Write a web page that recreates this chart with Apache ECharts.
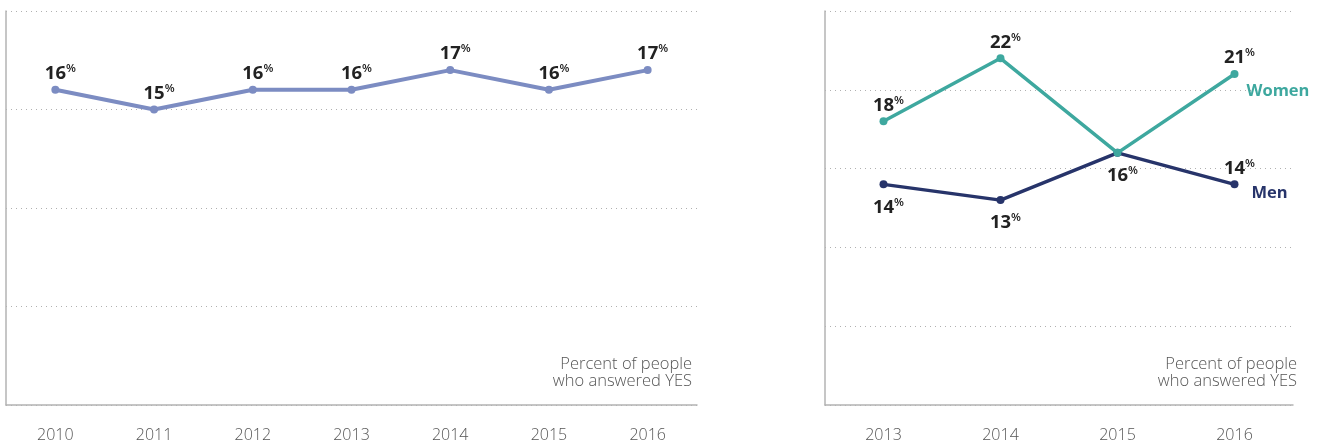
<!DOCTYPE html>
<html>
<head>
<meta charset="utf-8">
<style>
  html, body { margin: 0; padding: 0; background: #fff; }
  #chart { width: 1326px; height: 445px; }
</style>
<script src="https://cdn.jsdelivr.net/npm/echarts@6/dist/echarts.min.js"></script>
</head>
<body>
<div id="chart"></div>
<script>
// Share of people answering YES, all respondents (2010–2016)
const yearsAll = ['2010', '2011', '2012', '2013', '2014', '2015', '2016'];
const totalYes = [16, 15, 16, 16, 17, 16, 17];

// Split by gender (2013–2016)
const yearsGender = ['2013', '2014', '2015', '2016'];
const womenYes = [18, 22, 16, 21];
const menYes = [14, 13, 16, 14];

// Value axis ranges
const leftAxisMax = 20;
const rightAxisMax = 25;
const axisStep = 5;

const noteText = 'Percent of people\nwho answered YES';

const FONT = '"Open Sans", "Noto Sans", sans-serif';
const AXIS_GREY = '#b3b3b3';
const GRID_GREY = '#b0b0b0';
const TEXT_DARK = '#222';
const COLOR_ALL = '#7c8cc2';
const COLOR_WOMEN = '#3ea89f';
const COLOR_MEN = '#27346a';

const pctRich = {
  v: { fontFamily: FONT, fontSize: 18.5, fontWeight: 'bold', color: TEXT_DARK, lineHeight: 22 },
  p: { fontFamily: FONT, fontSize: 11.5, fontWeight: 600, color: TEXT_DARK, lineHeight: 13, verticalAlign: 'top' }
};
const pctFormatter = (p) => '{v|' + p.value + '}{p|%}';

function pctLabel(position, distance, offset) {
  return {
    show: true,
    position: position,
    distance: distance,
    offset: offset || [5, 0],
    formatter: pctFormatter,
    rich: pctRich
  };
}

function xAxisFor(gridIndex, cats) {
  return {
    type: 'category',
    gridIndex: gridIndex,
    data: cats,
    boundaryGap: true,
    axisLine: { show: true, lineStyle: { color: AXIS_GREY, width: 1.5 } },
    axisTick: { show: false },
    axisLabel: { margin: 22, color: '#555', fontFamily: FONT, fontSize: 16, fontWeight: 300 },
    splitLine: { show: false }
  };
}

function yAxisFor(gridIndex, max) {
  return {
    type: 'value',
    gridIndex: gridIndex,
    min: 0,
    max: max,
    interval: axisStep,
    axisLine: { show: true, lineStyle: { color: AXIS_GREY, width: 1.5 } },
    axisTick: { show: false },
    axisLabel: { show: false },
    splitLine: { show: true, lineStyle: { color: GRID_GREY, width: 1, type: [1, 4] } }
  };
}

// Label placement for the gender panel
const womenLabelSide = ['top', 'top', 'bottom', 'top'];
const menLabelSide = ['bottom', 'bottom', null, 'top'];

function labelledData(values, sides) {
  return values.map((v, i) => {
    const side = sides[i];
    if (!side) return { value: v, label: { show: false } };
    return { value: v, label: pctLabel(side, side === 'top' ? 1 : 8) };
  });
}

const noteStyle = {
  text: noteText, textAlign: 'right', textVerticalAlign: 'middle', fill: '#555',
  font: '300 16.5px ' + FONT, lineHeight: 17
};

const option = {
  backgroundColor: '#fff',
  animation: false,
  grid: [
    { left: 6, top: 11, width: 691, height: 394 },
    { left: 825, top: 11, width: 468, height: 394 }
  ],
  xAxis: [xAxisFor(0, yearsAll), xAxisFor(1, yearsGender)],
  yAxis: [yAxisFor(0, leftAxisMax), yAxisFor(1, rightAxisMax)],
  graphic: [
    { type: 'text', x: 692, y: 373, style: noteStyle },
    { type: 'text', x: 1297, y: 373, style: noteStyle }
  ],
  series: [
    {
      name: 'All',
      type: 'line',
      xAxisIndex: 0, yAxisIndex: 0,
      data: totalYes,
      symbol: 'circle', symbolSize: 8,
      lineStyle: { color: COLOR_ALL, width: 4 },
      itemStyle: { color: COLOR_ALL },
      label: pctLabel('top', 1)
    },
    {
      name: 'Women',
      type: 'line',
      xAxisIndex: 1, yAxisIndex: 1,
      data: labelledData(womenYes, womenLabelSide),
      symbol: 'circle', symbolSize: 8,
      lineStyle: { color: COLOR_WOMEN, width: 3.5 },
      itemStyle: { color: COLOR_WOMEN },
      endLabel: { show: true, formatter: '{a}', color: COLOR_WOMEN, fontFamily: FONT,
                  fontWeight: 'bold', fontSize: 16.5, distance: 5, offset: [7, 17] },
      z: 3
    },
    {
      name: 'Men',
      type: 'line',
      xAxisIndex: 1, yAxisIndex: 1,
      data: labelledData(menYes, menLabelSide),
      symbol: 'circle', symbolSize: 8,
      lineStyle: { color: COLOR_MEN, width: 3.5 },
      itemStyle: { color: COLOR_MEN },
      endLabel: { show: true, formatter: '{a}', color: COLOR_MEN, fontFamily: FONT,
                  fontWeight: 'bold', fontSize: 16.5, distance: 5, offset: [12, 9] },
      z: 2
    }
  ]
};

const chart = echarts.init(document.getElementById('chart'), null, { renderer: 'canvas' });
chart.setOption(option);
</script>
</body>
</html>
